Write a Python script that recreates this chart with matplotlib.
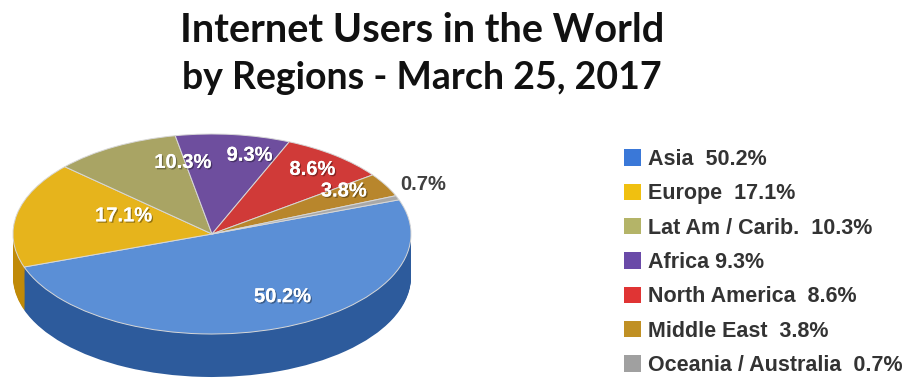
import numpy as np
import matplotlib
matplotlib.use("Agg")
import matplotlib.pyplot as plt
import matplotlib.patheffects as pe
from matplotlib.patches import Patch

# data
regions = ["Asia", "Europe", "Lat Am / Carib.", "Africa",
           "North America", "Middle East", "Oceania / Australia"]
shares = [50.2, 17.1, 10.3, 9.3, 8.6, 3.8, 0.7]
legend_gaps = ["  ", "  ", "  ", " ", "  ", "  ", "  "]

# styles
top_colors = ["#5b8fd6", "#e6b41c", "#a9a464", "#6e4e9e", "#d03a38", "#b8862c", "#a8a8a8"]
side_colors = ["#2d5b9c", "#c08a08", "#857f44", "#4e3478", "#9c2624", "#8a6218", "#7c7c7c"]
key_colors = ["#3a78d8", "#f0c010", "#b4b468", "#6a4aa8", "#e03434", "#c09024", "#a0a0a0"]
# label placement (angle deg, radius as fraction of the ellipse)
label_angle = [-60.5, 157.8, 101.6, 76.5, 52.0, 33.0, 24.8]
label_rad = [0.72, 0.48, 0.73, 0.81, 0.82, 0.79, 1.17]

START = 20
DEPTH = 0.43

fig = plt.figure(figsize=(9.13, 3.87), dpi=100)
fig.patch.set_facecolor("white")

# pie axes: centre of the pie ~ (212, 234) px, rx 199 px, ry 100 px
W, H = 913, 387
ax = fig.add_axes([0, 0, 440 / W, 277 / H])

# side wall: stack of shifted pies in darker colours
for d in np.linspace(DEPTH, 0.005, 45):
    ax.pie(shares, colors=side_colors, startangle=START, counterclock=False,
           center=(0, -d), wedgeprops=dict(linewidth=0, antialiased=True))
ax.pie(shares, colors=top_colors, startangle=START, counterclock=False,
       wedgeprops=dict(edgecolor="#d8d8d8", linewidth=0.7))

ax.set_aspect("auto")
ax.set_xlim((0 - 212) / 199, (440 - 212) / 199)
ax.set_ylim(-(387 - 234) / 100, (234 - 110) / 100)
ax.axis("off")

shadow = [pe.withSimplePatchShadow(offset=(1, -1), shadow_rgbFace="black", alpha=0.35),
          pe.Normal()]
for i, v in enumerate(shares):
    a = np.radians(label_angle[i])
    x, y = label_rad[i] * np.cos(a), label_rad[i] * np.sin(a)
    outside = label_rad[i] > 1
    ax.text(x, y, f"{v}%", ha="center", va="center", fontsize=14.5,
            fontweight="bold", family="Liberation Sans",
            color="#404040" if outside else "white",
            path_effects=None if outside else shadow)

# title (second line a touch tighter: Lato digits run wider than the original font)
title_font = dict(family="Lato", fontweight="bold", color="#111111",
                  ha="center", va="baseline")
fig.text(422 / W, 1 - 42 / H, "Internet Users in the World", fontsize=28.5, **title_font)
fig.text(422 / W, 1 - 89 / H, "by Regions - March 25, 2017", fontsize=27, **title_font)

# legend
handles = [Patch(facecolor=c, edgecolor="none") for c in key_colors]
labels = [f"{r}{g}{v}%" for r, g, v in zip(regions, legend_gaps, shares)]
leg = fig.legend(handles, labels, loc="upper left",
                 bbox_to_anchor=(624 / W, 1 - 149 / H), frameon=False,
                 prop=dict(family="Liberation Sans", weight="bold", size=15.5),
                 labelcolor="#333333", handlelength=0.8, handleheight=0.8,
                 handletextpad=0.3, labelspacing=0.62, borderpad=0,
                 borderaxespad=0)

fig.savefig("out.png", dpi=100, facecolor="white")
